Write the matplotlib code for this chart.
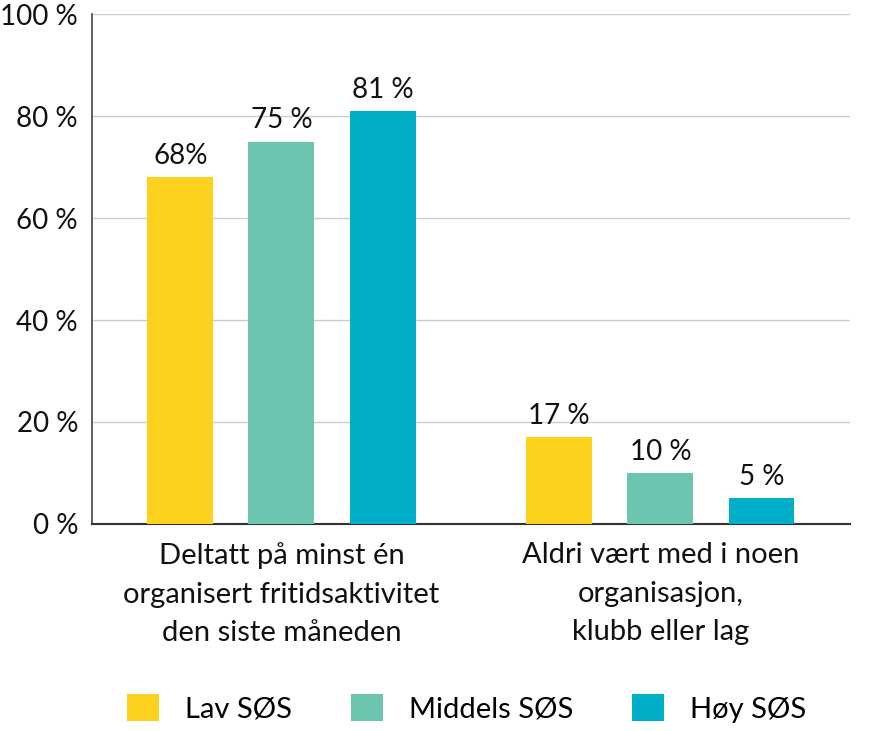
import matplotlib
matplotlib.use("Agg")
import matplotlib.pyplot as plt
import numpy as np
from matplotlib.patches import Patch

plt.rcParams['font.family'] = ['Lato', 'DejaVu Sans']

categories = ["Deltatt på minst én\norganisert fritidsaktivitet\nden siste måneden",
              "Aldri vært med i noen\norganisasjon,\nklubb eller lag"]
series_names = ["Lav SØS", "Middels SØS", "Høy SØS"]
values = {
    "Lav SØS": [68, 17],
    "Middels SØS": [75, 10],
    "Høy SØS": [81, 5],
}
value_labels = {
    "Lav SØS": ["68%", "17 %"],
    "Middels SØS": ["75 %", "10 %"],
    "Høy SØS": ["81 %", "5 %"],
}
yticks = [0, 20, 40, 60, 80, 100]
ytick_labels = ["0 %", "20 %", "40 %", "60 %", "80 %", "100 %"]
colors = ["#FDD21F", "#6CC5AE", "#00AFC7"]

fig = plt.figure(figsize=(8.77, 7.31), dpi=100)
ax = fig.add_axes([0.1049, 0.2832, 0.969 - 0.1049, 0.9808 - 0.2832])

x = np.arange(len(categories))
width = 0.174
offset = 0.267
for i, name in enumerate(series_names):
    pos = x + (i - 1) * offset
    bars = ax.bar(pos, values[name], width=width, color=colors[i], zorder=3)
    for b, lab in zip(bars, value_labels[name]):
        ax.annotate(lab, (b.get_x() + b.get_width() / 2, b.get_height()),
                    xytext=(0, 6), textcoords="offset points",
                    ha="center", va="bottom", fontsize=20, color="#111111")

ax.set_xlim(-0.5, 1.5)
ax.set_ylim(0, 100)
ax.set_yticks(yticks)
ax.set_yticklabels(ytick_labels, fontsize=20, color="#111111")
ax.set_xticks(x)
ax.set_xticklabels(categories, fontsize=21, color="#111111", linespacing=1.6)
ax.tick_params(axis="both", length=0)
ax.tick_params(axis="y", pad=10)
ax.tick_params(axis="x", pad=13)
ax.yaxis.grid(True, color="#cccccc", linewidth=1, zorder=0)
for s in ["top", "right"]:
    ax.spines[s].set_visible(False)
ax.spines["left"].set_color("#444444")
ax.spines["bottom"].set_color("#333333")
ax.spines["left"].set_linewidth(1.2)
ax.spines["bottom"].set_linewidth(1.5)

handles = [Patch(facecolor=c, edgecolor="none") for c in colors]
fig.legend(handles, series_names, loc="center", bbox_to_anchor=(0.532, 0.031),
           ncol=3, frameon=False, fontsize=21, handlelength=1.1, handleheight=1.05,
           handletextpad=0.9, columnspacing=2.0)

fig.savefig("out.png", dpi=100)
